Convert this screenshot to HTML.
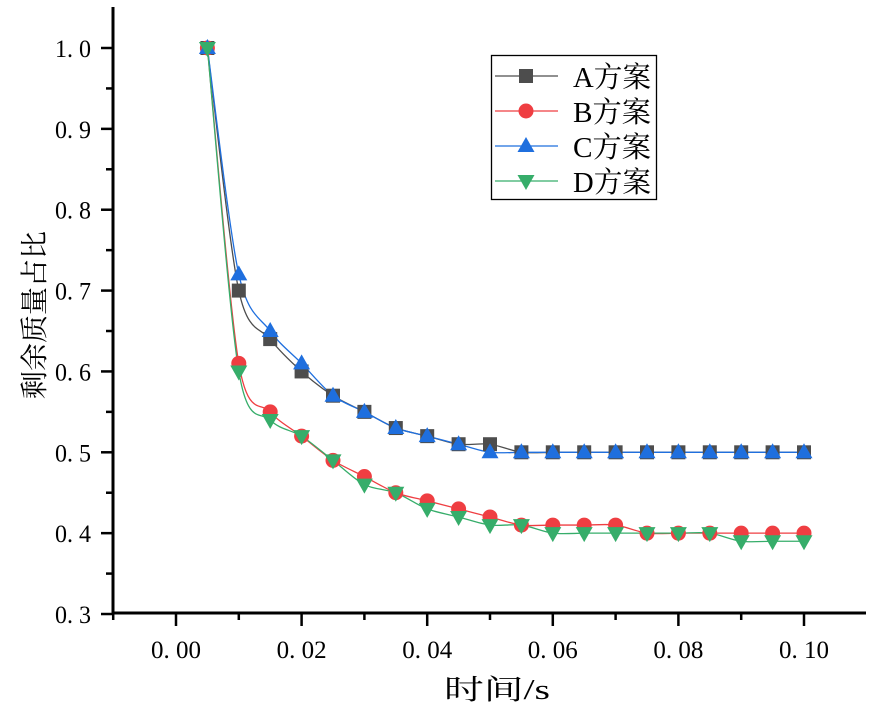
<!DOCTYPE html>
<html><head><meta charset="utf-8"><style>
body{margin:0;background:#fff;}
svg{display:block;}
text{font-family:"Liberation Serif","Noto Serif CJK SC",serif;}
</style></head><body>
<svg id="s" width="873" height="715" xmlns="http://www.w3.org/2000/svg"></svg>
<script>
const s=document.getElementById('s');
const X=v=>176+v*6280, Y=v=>48+(1-v)*808.6;
let h='';
h+='<line x1="113" y1="7" x2="113" y2="614" stroke="#000" stroke-width="3"/>';
h+='<line x1="112" y1="613" x2="866" y2="613" stroke="#000" stroke-width="3"/>';
for(let i=0;i<=7;i++){const v=0.3+i*0.1,y=Y(v);h+=`<line x1="101" y1="${y}" x2="113" y2="${y}" stroke="#000" stroke-width="2.5"/>`;
h+=`<text x="91" y="${y+9}" font-size="25" text-anchor="end" textLength="36" lengthAdjust="spacingAndGlyphs">${v.toFixed(1).replace('.','. ')}</text>`;
if(i<7)h+=`<line x1="106" y1="${Y(v+0.05)}" x2="113" y2="${Y(v+0.05)}" stroke="#000" stroke-width="2.5"/>`;}
for(let i=-1;i<=11;i++){const x=X(i*0.01);if(x<112||x>866)continue;const major=i%2==0&&i>=0;
h+=`<line x1="${x}" y1="613" x2="${x}" y2="${major?626:620}" stroke="#000" stroke-width="2.5"/>`;
if(major)h+=`<text x="${x}" y="658" font-size="25" text-anchor="middle" textLength="50" lengthAdjust="spacingAndGlyphs">${(i*0.01).toFixed(2).replace('.','. ')}</text>`;}
h+='<text x="497" y="699" font-size="28" text-anchor="middle" textLength="106" lengthAdjust="spacingAndGlyphs">时间/s</text>';
h+='<text transform="translate(44,315) rotate(-90)" font-size="28" text-anchor="middle">剩余质量占比</text>';
const xs=[];for(let i=1;i<=20;i++)xs.push(i*0.005);
const S=[
{c:'#4d4d4d',m:'sq',d:[1,.70,.64,.60,.57,.55,.53,.52,.51,.51,.50,.50,.50,.50,.50,.50,.50,.50,.50,.50]},
{c:'#ef3e42',m:'ci',d:[1,.61,.55,.52,.49,.47,.45,.44,.43,.42,.41,.41,.41,.41,.40,.40,.40,.40,.40,.40]},
{c:'#1f6fde',m:'tu',d:[1,.72,.65,.61,.57,.55,.53,.52,.51,.50,.50,.50,.50,.50,.50,.50,.50,.50,.50,.50]},
{c:'#36ad6a',m:'td',d:[1,.60,.54,.52,.49,.46,.45,.43,.42,.41,.41,.40,.40,.40,.40,.40,.40,.39,.39,.39]}];
function mk(m,x,y,c){
if(m=='sq')return `<rect x="${x-7}" y="${y-7}" width="14" height="14" fill="${c}"/>`;
if(m=='ci')return `<circle cx="${x}" cy="${y}" r="7.5" fill="${c}"/>`;
if(m=='tu')return `<polygon points="${x},${y-9} ${x-8.5},${y+6} ${x+8.5},${y+6}" fill="${c}"/>`;
return `<polygon points="${x},${y+9} ${x-8.5},${y-6} ${x+8.5},${y-6}" fill="${c}"/>`;}
S.forEach(se=>{const p=se.d.map((v,i)=>[X(xs[i]),Y(v)]);
let d=`M${p[0][0]},${p[0][1]}`;
for(let i=0;i<p.length-1;i++){const p0=p[i-1]||p[i],p1=p[i],p2=p[i+1],p3=p[i+2]||p2;
const t=0.15;d+=` C${p1[0]+(p2[0]-p0[0])*t},${p1[1]+(p2[1]-p0[1])*t} ${p2[0]-(p3[0]-p1[0])*t},${p2[1]-(p3[1]-p1[1])*t} ${p2[0]},${p2[1]}`;}
h+=`<path d="${d}" fill="none" stroke="${se.c}" stroke-width="1.3"/>`;});
S.forEach(se=>se.d.forEach((v,i)=>h+=mk(se.m,X(xs[i]),Y(v),se.c)));
h+='<rect x="491.5" y="55.5" width="165" height="144" fill="#fff" stroke="#000" stroke-width="1.3"/>';
S.forEach((se,i)=>{const y=76+i*35;h+=`<line x1="495" y1="${y}" x2="558" y2="${y}" stroke="${se.c}" stroke-width="1.3"/>`+mk(se.m,526,y,se.c)+
`<text x="573" y="${y+11}" font-size="29" textLength="78" lengthAdjust="spacingAndGlyphs">${'ABCD'[i]}方案</text>`;});
s.innerHTML=h;
</script>
</body></html>
